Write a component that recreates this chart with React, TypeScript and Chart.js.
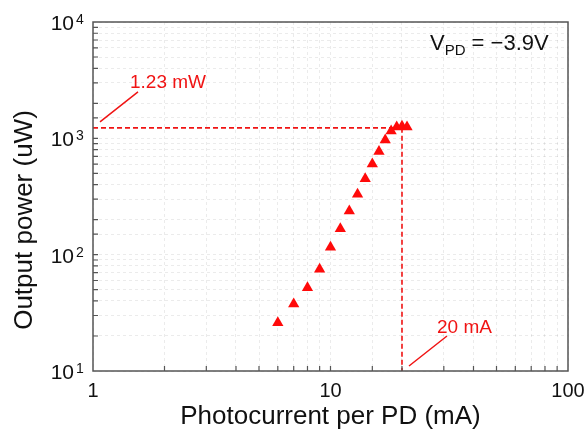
import React, { useEffect, useRef } from 'react';
import { Chart, registerables } from 'chart.js';

Chart.register(...registerables);

// ---- data ----
const photocurrent = [6, 7, 8, 9, 10, 11, 12, 13, 14, 15, 16, 17, 18, 19, 20, 21]; // mA
const outputPower = [26, 37.7, 52, 75, 116, 167, 237, 330, 450, 602, 769, 969, 1158, 1250, 1270, 1250]; // uW
const xMajorTicks = [1, 10, 100];
const yMajorExponents = [1, 2, 3, 4];
const markCurrent = 20; // mA
const markPower = 1230; // uW
const markPowerLabel = '1.23 mW';
const markCurrentLabel = '20 mA';
const xTitle = 'Photocurrent per PD (mA)';
const yTitle = 'Output power (uW)';

const RED = 'rgb(240,20,20)';
const AXIS = '#555555';
const FONT = '"Liberation Sans", Arial, Helvetica, sans-serif';

const isMajor = (v: number) => Math.abs(Math.log10(v) - Math.round(Math.log10(v))) < 1e-9;

const overlay = {
  id: 'overlay',
  beforeDatasetsDraw(chart: any) {
    const { ctx, chartArea: a, scales } = chart;
    const x = scales.x;
    const y = scales.y;
    const px = x.getPixelForValue(markCurrent);
    const py = y.getPixelForValue(markPower);
    ctx.save();
    ctx.strokeStyle = RED;
    ctx.lineWidth = 1.6;
    ctx.setLineDash([5, 3]);
    ctx.beginPath();
    ctx.moveTo(a.left, py);
    ctx.lineTo(px, py);
    ctx.moveTo(px, py);
    ctx.lineTo(px, a.bottom);
    ctx.stroke();
    ctx.restore();
  },
  afterDraw(chart: any) {
    const { ctx, chartArea: a, scales } = chart;
    const x = scales.x;
    const y = scales.y;
    ctx.save();
    // frame
    ctx.strokeStyle = AXIS;
    ctx.lineWidth = 1.5;
    ctx.setLineDash([]);
    ctx.strokeRect(a.left, a.top, a.right - a.left, a.bottom - a.top);
    // inward ticks
    ctx.lineWidth = 1.2;
    ctx.beginPath();
    x.ticks.forEach((t: any) => {
      const p = x.getPixelForValue(t.value);
      if (p <= a.left + 1 || p >= a.right - 1) return;
      ctx.moveTo(p, a.bottom);
      ctx.lineTo(p, a.bottom - 5);
    });
    y.ticks.forEach((t: any) => {
      const p = y.getPixelForValue(t.value);
      if (p <= a.top + 1 || p >= a.bottom - 1) return;
      ctx.moveTo(a.left, p);
      ctx.lineTo(a.left + 5, p);
    });
    ctx.stroke();

    // y tick labels with superscripts
    ctx.fillStyle = '#111';
    yMajorExponents.forEach((e) => {
      const p = y.getPixelForValue(Math.pow(10, e));
      ctx.font = `21px ${FONT}`;
      ctx.textAlign = 'right';
      ctx.textBaseline = 'alphabetic';
      ctx.fillText('10', a.left - 19, p + 8);
      ctx.font = `14px ${FONT}`;
      ctx.textAlign = 'left';
      ctx.fillText(String(e), a.left - 17, p + 2);
    });

    // axis titles
    ctx.fillStyle = '#111';
    ctx.font = `26px ${FONT}`;
    ctx.textAlign = 'center';
    ctx.textBaseline = 'alphabetic';
    ctx.fillText(xTitle, (a.left + a.right) / 2, 424);
    ctx.save();
    ctx.translate(32, 220);
    ctx.rotate(-Math.PI / 2);
    ctx.font = `26px ${FONT}`;
    ctx.fillText(yTitle, 0, 0);
    ctx.restore();

    // annotations
    const mx = x.getPixelForValue(markCurrent);
    const my = y.getPixelForValue(markPower);
    const lx = a.left;
    const lyBottom = a.bottom;
    ctx.strokeStyle = RED;
    ctx.fillStyle = RED;
    ctx.lineWidth = 1.5;
    ctx.beginPath();
    ctx.moveTo(lx + 7, my - 6);
    ctx.lineTo(lx + 45, my - 36);
    ctx.moveTo(mx + 7, lyBottom - 5);
    ctx.lineTo(mx + 45, lyBottom - 35);
    ctx.stroke();
    ctx.font = `19px ${FONT}`;
    ctx.textAlign = 'left';
    ctx.textBaseline = 'alphabetic';
    ctx.fillText(markPowerLabel, lx + 37, my - 40);
    ctx.fillText(markCurrentLabel, mx + 35, lyBottom - 38);

    // V_PD label
    ctx.fillStyle = '#111';
    let tx = 430;
    const ty = 50;
    ctx.font = `22px ${FONT}`;
    ctx.fillText('V', tx, ty);
    tx += ctx.measureText('V').width;
    ctx.font = `15px ${FONT}`;
    ctx.fillText('PD', tx, ty + 5);
    tx += ctx.measureText('PD').width;
    ctx.font = `22px ${FONT}`;
    ctx.fillText(' = \u22123.9V', tx, ty);
    ctx.restore();
  },
};

export default function App() {
  const ref = useRef<HTMLCanvasElement | null>(null);
  useEffect(() => {
    if (!ref.current) return;
    const chart = new Chart(ref.current, {
      type: 'scatter',
      data: {
        datasets: [
          {
            data: photocurrent.map((v, i) => ({ x: v, y: outputPower[i] })),
            pointStyle: 'triangle',
            pointRadius: 6.5,
            pointBackgroundColor: 'rgb(255,10,10)',
            pointBorderColor: 'rgb(255,10,10)',
            pointBorderWidth: 0,
            showLine: false,
          },
        ],
      },
      options: {
        animation: false,
        responsive: false,
        devicePixelRatio: 1,
        layout: { padding: { top: 22, right: 20, left: 0, bottom: 0 } },
        plugins: { legend: { display: false }, tooltip: { enabled: false } },
        scales: {
          x: {
            type: 'logarithmic',
            min: 1,
            max: 100,
            grid: { color: 'rgba(0,0,0,0.08)', lineWidth: 1, drawTicks: false },
            border: { display: false, dash: [3, 3] },
            ticks: {
              autoSkip: false,
              maxRotation: 0,
              padding: 8,
              color: '#111',
              font: { size: 20, family: FONT },
              callback: (v: any) => (xMajorTicks.includes(Number(v)) || isMajor(Number(v)) ? String(Number(v)) : ''),
            },
            afterFit: (s: any) => {
              s.height = 68;
              s.paddingLeft = 0;
              s.paddingRight = 0;
            },
          },
          y: {
            type: 'logarithmic',
            min: 10,
            max: 10000,
            grid: { color: 'rgba(0,0,0,0.08)', lineWidth: 1, drawTicks: false },
            border: { display: false, dash: [3, 3] },
            ticks: { display: false },
            afterFit: (s: any) => {
              s.width = 93;
              s.paddingTop = 0;
              s.paddingBottom = 0;
            },
          },
        },
      },
      plugins: [overlay],
    });
    return () => chart.destroy();
  }, []);
  return (
    <div style={{ position: 'absolute', left: 0, top: 0, width: 588, height: 439, background: '#fff' }}>
      <canvas ref={ref} width={588} height={439} style={{ display: 'block' }} />
    </div>
  );
}
